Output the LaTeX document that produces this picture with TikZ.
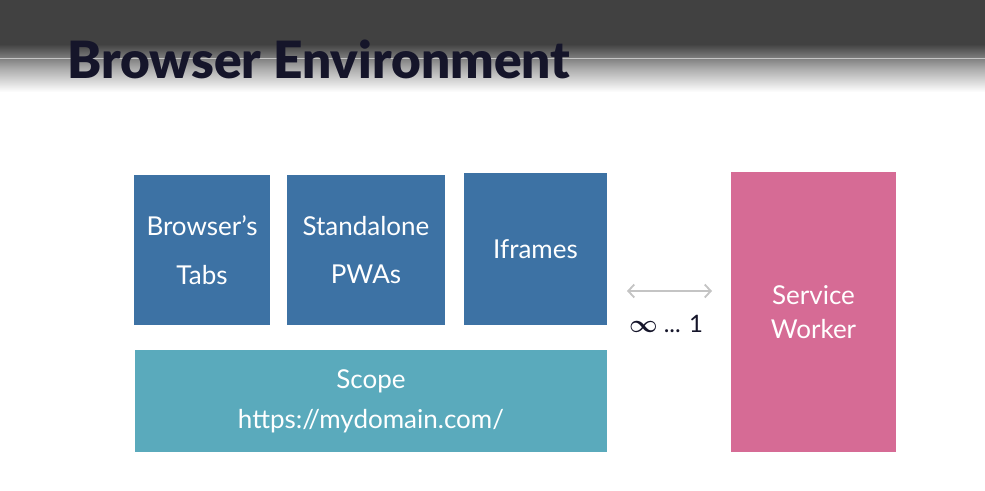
\documentclass[tikz,border=0pt]{standalone}
\usepackage{amsmath}
\usepackage{fontspec}
\setmainfont{Lato}
\newfontfamily\titlefont{Lato Black}
\usetikzlibrary{arrows.meta}
\definecolor{tabblue}{HTML}{3D72A4}
\definecolor{scopeteal}{HTML}{5AAABC}
\definecolor{swpink}{HTML}{D66B95}
\definecolor{titleink}{HTML}{15152A}
\definecolor{bandgray}{HTML}{414141}
\definecolor{linkgray}{HTML}{C4C4C4}
\tikzset{
  panel/.style={draw=none, inner sep=0pt, text=white, align=center,
    font=\fontsize{26}{31}\selectfont},
  tabbox/.style={panel, fill=tabblue},
}
\begin{document}
\begin{tikzpicture}[x=1pt, y=-1pt]
  % page frame
  \useasboundingbox (0,0) rectangle (985,490);
  \fill[white] (0,0) rectangle (985,490);
  % dark header band fading into the page
  \fill[bandgray] (0,0) rectangle (985,44);
  \shade[top color=bandgray, bottom color=white, middle color=bandgray!45!white]
    (0,44) rectangle (985,92);
  \draw[white, opacity=0.55, line width=0.8pt] (0,58) -- (985,58);
  % title
  \node[anchor=base west, inner sep=0pt, text=titleink,
        font=\fontsize{46}{50}\titlefont] (title) at (67,78)
        {\resizebox{503pt}{!}{Browser Environment}};
  % contexts
  \node[tabbox, minimum width=136, minimum height=150] (tabs) at (202,250)
    {Browser’s\\[18pt]Tabs};
  \node[tabbox, minimum width=158, minimum height=150] (pwa) at (366,250)
    {Standalone\\[17pt]PWAs};
  \node[tabbox, minimum width=143, minimum height=152] (ifr) at (535.5,249)
    {Iframes};
  % scope bar
  \node[panel, fill=scopeteal, minimum width=472, minimum height=102] (scope)
    at (371,401) {Scope\\[9pt]https://mydomain.com/};
  % service worker
  \node[panel, fill=swpink, minimum width=165, minimum height=280] (sw)
    at (813.5,312) {Service\\[3pt]Worker};
  % many-to-one link
  \coordinate (la) at (627,291);
  \coordinate (lb) at (712,291);
  \draw[linkgray, line width=1.8pt,
        {Straight Barb[length=6pt,width=13pt]}-{Straight Barb[length=6pt,width=13pt]}]
    (la) -- (lb);
  \node[text=titleink, font=\fontsize{24}{28}\selectfont, inner sep=0pt]
    (card) at (666,324) {$\boldsymbol{\infty}$ ... 1};
\end{tikzpicture}
\end{document}
